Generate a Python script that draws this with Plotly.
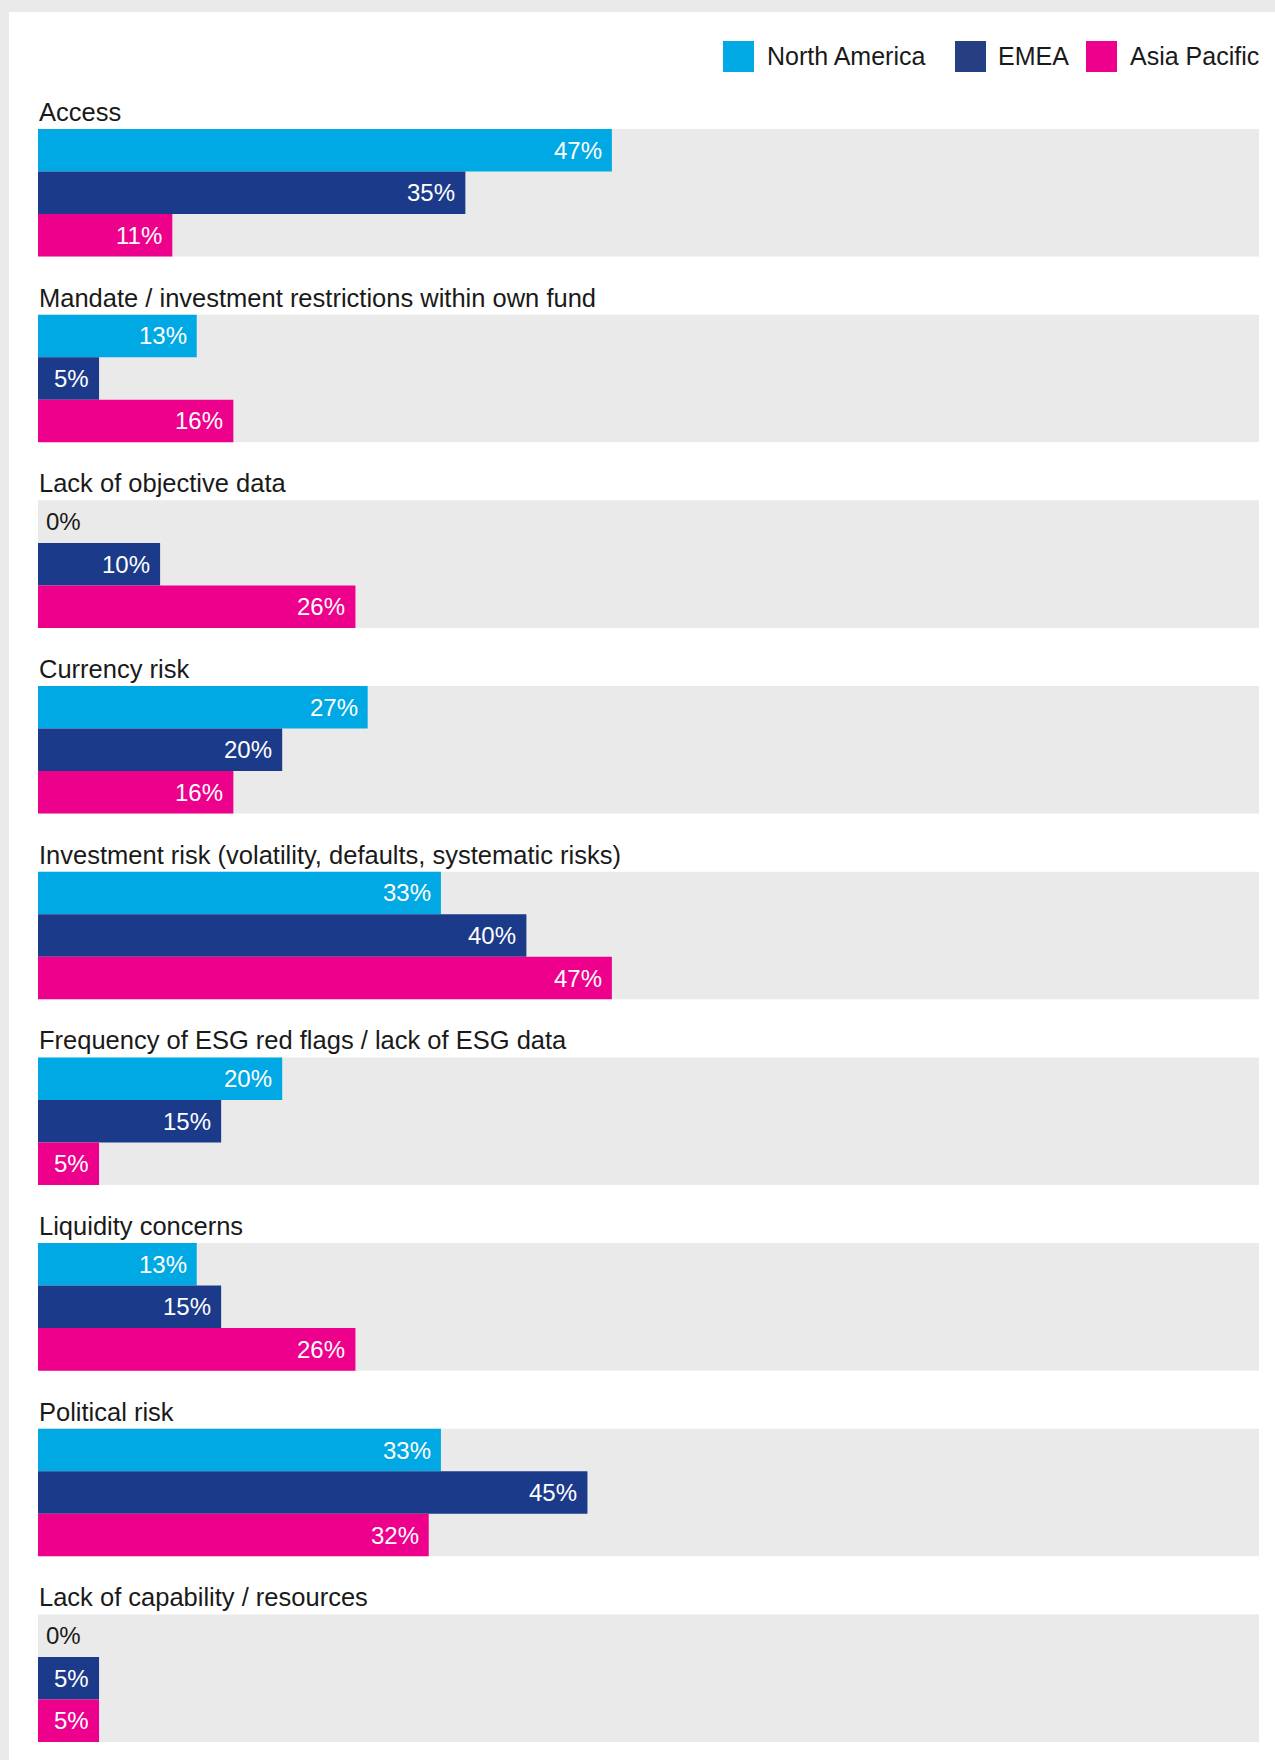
import plotly.graph_objects as go

# Survey results: share of respondents per region (%)
categories = [
    "Access",
    "Mandate / investment restrictions within own fund",
    "Lack of objective data",
    "Currency risk",
    "Investment risk (volatility, defaults, systematic risks)",
    "Frequency of ESG red flags / lack of ESG data",
    "Liquidity concerns",
    "Political risk",
    "Lack of capability / resources",
]
north_america = [47, 13, 0, 27, 33, 20, 13, 33, 0]
emea = [35, 5, 10, 20, 40, 15, 15, 45, 5]
asia_pacific = [11, 16, 26, 16, 47, 5, 26, 32, 5]
full_scale = [100] * len(categories)

series_names = ["North America", "EMEA", "Asia Pacific"]
series_values = [north_america, emea, asia_pacific]
series_colors = ["#00A9E4", "#1C3A8A", "#EC008C"]
legend_colors = ["#00A9E4", "#263F82", "#EC008C"]
track_color = "#EAEAEA"

FONT = "Liberation Sans, Arial, sans-serif"
W, H = 1275, 1760
L, R, T, B = 38, 16, 129, 18
PW, PH = W - L - R, H - T - B

# Each category occupies one unit; the grey track spans this fraction of it
half = 0.3434
bar_w = 2 * half / 3
positions = list(range(len(categories)))


def paper_x(px):
    return (px - L) / PW


def paper_y(py):
    return 1 - (py - T) / PH


fig = go.Figure()

# grey full-scale tracks behind each group
fig.add_trace(go.Bar(
    y=positions, x=full_scale, orientation="h",
    width=2 * half, marker=dict(color=track_color, line=dict(width=0)),
    hoverinfo="skip", showlegend=False,
))

annotations = []
for k, (name, vals, col) in enumerate(zip(series_names, series_values, series_colors)):
    off = -half + k * bar_w
    fig.add_trace(go.Bar(
        name=name, y=positions, x=vals, orientation="h",
        width=bar_w, offset=off,
        marker=dict(color=col, line=dict(width=0)),
        showlegend=False,
    ))
    for i, v in zip(positions, vals):
        yc = i + off + bar_w / 2
        if v > 0:
            annotations.append(dict(
                x=v, y=yc, xref="x", yref="y", text=f"{v}%",
                showarrow=False, xanchor="right", yanchor="middle",
                xshift=-9, borderpad=0,
                font=dict(family=FONT, size=24, color="white"),
            ))
        else:
            annotations.append(dict(
                x=v, y=yc, xref="x", yref="y", text=f"{v}%",
                showarrow=False, xanchor="left", yanchor="middle",
                xshift=7, borderpad=0,
                font=dict(family=FONT, size=24, color="#1a1a1a"),
            ))

# category titles above each group
for i, cat in zip(positions, categories):
    annotations.append(dict(
        x=0, y=i - half, xref="x", yref="y", text=cat,
        showarrow=False, xanchor="left", yanchor="bottom",
        yshift=2, borderpad=0,
        font=dict(family=FONT, size=25.5, color="#1a1a1a"),
    ))

# legend: swatches and labels along the top right
shapes = []
legend_swatch_x = [723, 955, 1086]
legend_text_x = [766, 997, 1129]
for name, col, sx, tx in zip(series_names, legend_colors, legend_swatch_x, legend_text_x):
    shapes.append(dict(
        type="rect", xref="paper", yref="paper",
        x0=paper_x(sx), x1=paper_x(sx + 31),
        y0=paper_y(72), y1=paper_y(41),
        fillcolor=col, line=dict(width=0), layer="above",
    ))
    annotations.append(dict(
        x=paper_x(tx), y=paper_y(56), xref="paper", yref="paper",
        text=name, showarrow=False, xanchor="left", yanchor="middle",
        borderpad=0, font=dict(family=FONT, size=25, color="#1a1a1a"),
    ))

# page frame: grey strip along the top and left edges
shapes.append(dict(
    type="rect", xref="paper", yref="paper",
    x0=paper_x(0), x1=paper_x(W), y0=paper_y(12), y1=paper_y(0),
    fillcolor=track_color, line=dict(width=0), layer="below",
))
shapes.append(dict(
    type="rect", xref="paper", yref="paper",
    x0=paper_x(0), x1=paper_x(9), y0=paper_y(H), y1=paper_y(0),
    fillcolor=track_color, line=dict(width=0), layer="below",
))

fig.update_layout(
    width=W, height=H,
    margin=dict(l=L, r=R, t=T, b=B, pad=0),
    paper_bgcolor="white", plot_bgcolor="white",
    barmode="overlay",
    showlegend=False,
    xaxis=dict(range=[0, 100], visible=False, fixedrange=True),
    yaxis=dict(range=[len(categories) - 1 + half, -half], visible=False, fixedrange=True),
    annotations=annotations,
    shapes=shapes,
    font=dict(family=FONT),
)

fig.write_html("out.html", config={"displayModeBar": False})
